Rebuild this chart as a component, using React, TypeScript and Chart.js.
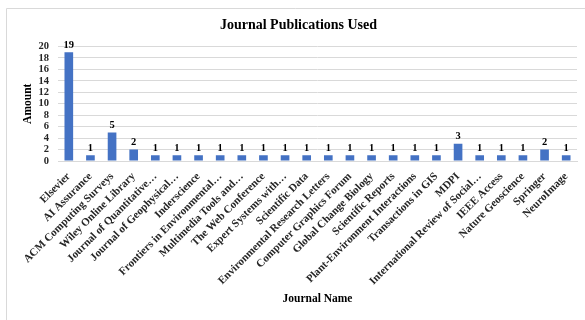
import React, { useEffect, useRef } from "react";
import { Chart, registerables } from "chart.js";

Chart.register(...registerables);

const journals = [
  "Elsevier",
  "AI Assurance",
  "ACM Computing Surveys",
  "Wiley Online Library",
  "Journal of Quantitative…",
  "Journal of Geophysical…",
  "Inderscience",
  "Frontiers in Environmental…",
  "Multimedia Tools and…",
  "The Web Conference",
  "Expert Systems with…",
  "Scientific Data",
  "Environmental Research Letters",
  "Computer Graphics Forum",
  "Global Change Biology",
  "Scientific Reports",
  "Plant-Environment Interactions",
  "Transactions in GIS",
  "MDPI",
  "International Review of Social…",
  "IEEE Access",
  "Nature Geoscience",
  "Springer",
  "NeuroImage",
];

const amounts = [19, 1, 5, 2, 1, 1, 1, 1, 1, 1, 1, 1, 1, 1, 1, 1, 1, 1, 3, 1, 1, 1, 2, 1];

const yMin = 0;
const yMax = 20;
const yStep = 2;

const chartTitle = "Journal Publications Used";
const xTitle = "Journal Name";
const yTitle = "Amount";

const SERIF = "'Liberation Serif', 'Times New Roman', serif";

const borderPlugin = {
  id: "outerBorder",
  beforeDraw(chart: any) {
    const { ctx, width, height } = chart;
    ctx.save();
    ctx.strokeStyle = "#d9d9d9";
    ctx.lineWidth = 1;
    ctx.beginPath();
    ctx.moveTo(width, 8.5);
    ctx.lineTo(6.5, 8.5);
    ctx.lineTo(6.5, height);
    ctx.stroke();
    ctx.restore();
  },
};

const labelPlugin = {
  id: "barLabels",
  afterDatasetsDraw(chart: any) {
    const { ctx } = chart;
    const meta = chart.getDatasetMeta(0);
    const data = chart.data.datasets[0].data as number[];
    ctx.save();
    ctx.font = `bold 10.5px ${SERIF}`;
    ctx.fillStyle = "#000";
    ctx.textAlign = "center";
    ctx.textBaseline = "bottom";
    meta.data.forEach((bar: any, i: number) => {
      ctx.fillText(String(data[i]), bar.x, bar.y - 2);
    });
    ctx.restore();
  },
};

export default function App() {
  const ref = useRef<HTMLCanvasElement>(null);

  useEffect(() => {
    if (!ref.current) return;
    const chart = new Chart(ref.current, {
      type: "bar",
      data: {
        labels: journals,
        datasets: [
          {
            data: amounts,
            backgroundColor: "#4472c4",
            borderWidth: 0,
            categoryPercentage: 0.4,
            barPercentage: 1,
          },
        ],
      },
      options: {
        animation: false,
        responsive: false,
        devicePixelRatio: 1,
        layout: { padding: { left: 20, right: 8, top: 0, bottom: 0 } },
        plugins: {
          legend: { display: false },
          tooltip: { enabled: false },
          title: {
            display: true,
            text: chartTitle,
            color: "#000",
            font: { family: SERIF, size: 14, weight: "bold", lineHeight: 1.2 },
            padding: { top: 16.6, bottom: 13.1 },
          },
        },
        scales: {
          x: {
            grid: { display: false, drawTicks: false },
            border: { display: true, color: "#d9d9d9" },
            ticks: {
              autoSkip: false,
              minRotation: 45,
              maxRotation: 45,
              padding: 9,
              color: "#262626",
              font: { family: SERIF, size: 11, weight: "bold" },
            },
            title: {
              display: true,
              text: xTitle,
              color: "#000",
              font: { family: SERIF, size: 11.5, weight: "bold", lineHeight: 1.2 },
              padding: { top: 0, bottom: 14.1 },
            },
            afterFit(scale: any) {
              scale.height = 159;
            },
          },
          y: {
            min: yMin,
            max: yMax,
            ticks: {
              stepSize: yStep,
              autoSkip: false,
              padding: 9,
              color: "#262626",
              font: { family: SERIF, size: 10.5, weight: "bold" },
            },
            grid: { color: "#d9d9d9", drawTicks: false },
            border: { display: false },
            title: {
              display: true,
              text: yTitle,
              color: "#000",
              font: { family: SERIF, size: 11.5, weight: "bold", lineHeight: 1.2 },
              padding: { top: 1.1, bottom: 0 },
            },
            afterFit(scale: any) {
              scale.width = 38;
            },
          },
        },
      },
      plugins: [borderPlugin, labelPlugin],
    });
    return () => chart.destroy();
  }, []);

  return (
    <div style={{ position: "fixed", left: 0, top: 0, width: 585, height: 320, background: "#fff" }}>
      <canvas ref={ref} width={585} height={320} style={{ display: "block" }} />
    </div>
  );
}
